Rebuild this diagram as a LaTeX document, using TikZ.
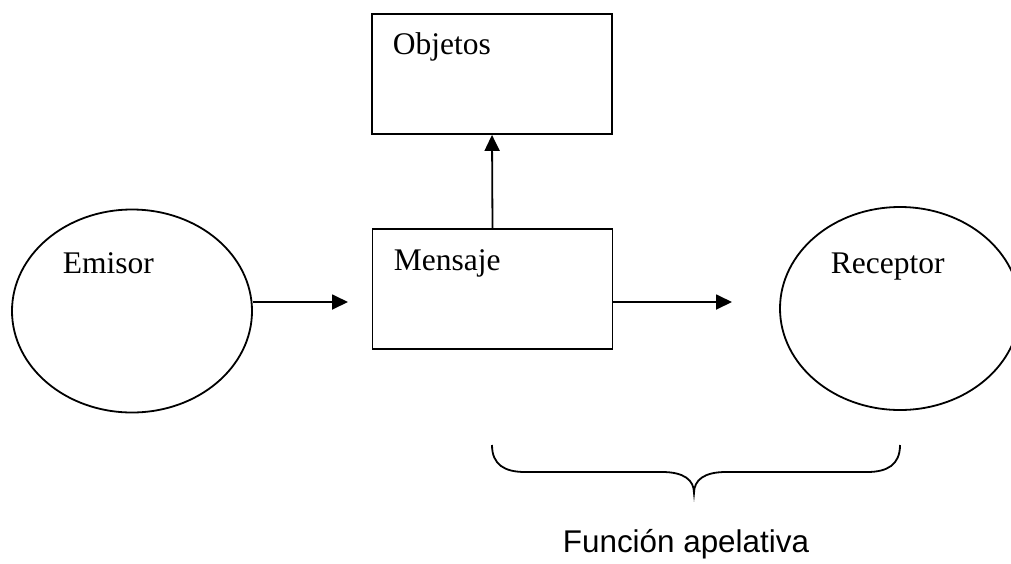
\documentclass[tikz,border=0pt]{standalone}
\usepackage{fontspec}
\setmainfont{Liberation Serif}
\newfontfamily\arialfont{Liberation Sans}
\usetikzlibrary{shapes.geometric,arrows.meta}
\begin{document}
\begin{tikzpicture}[x=1pt,y=-1pt,line width=1.8pt,
  boxshape/.style={draw,rectangle,minimum width=240pt,minimum height=120pt,inner sep=0pt},
  ovalshape/.style={draw,ellipse,minimum width=240pt,minimum height=203pt,inner sep=0pt},
  lbl/.style={anchor=base west,inner sep=0pt,font=\fontsize{31.5}{36}\selectfont},
  arr/.style={-{Triangle[length=16pt,width=15pt]}}]
\path[use as bounding box] (0,0) rectangle (1011,563);
\clip (0,0) rectangle (1011,563);
\node[ovalshape] (emisor) at (132,311) {};
\node[boxshape] (mensaje) at (492.5,289) {};
\node[boxshape] (objetos) at (492,74) {};
\node[ovalshape] (receptor) at (900,308.5) {};
\node[lbl] (temisor) at (62,273) {Emisor};
\node[lbl] (tmensaje) at (393,270) {Mensaje};
\node[lbl] (tobjetos) at (392,54) {Objetos};
\node[lbl] (treceptor) at (830,273) {Receptor};
\node[lbl,font=\arialfont\fontsize{31.4}{36}\selectfont] (tfuncion) at (562,552) {Función apelativa};
\coordinate (tip1) at (348,302);
\coordinate (tip2) at (732,302);
\draw[arr] ([yshift=9pt]emisor.east) -- (tip1);
\draw[arr] ([yshift=-13pt]mensaje.east) -- (tip2);
\draw[arr] (mensaje.north) -- (objetos.south);
\draw (492,445) .. controls (492,465) and (505,472) .. (525,472) -- (662,472)
  .. controls (684,472) and (694,480) .. (694,493)
  .. controls (694,480) and (704,472) .. (726,472) -- (867,472)
  .. controls (887,472) and (900,465) .. (900,445);
\end{tikzpicture}
\end{document}
